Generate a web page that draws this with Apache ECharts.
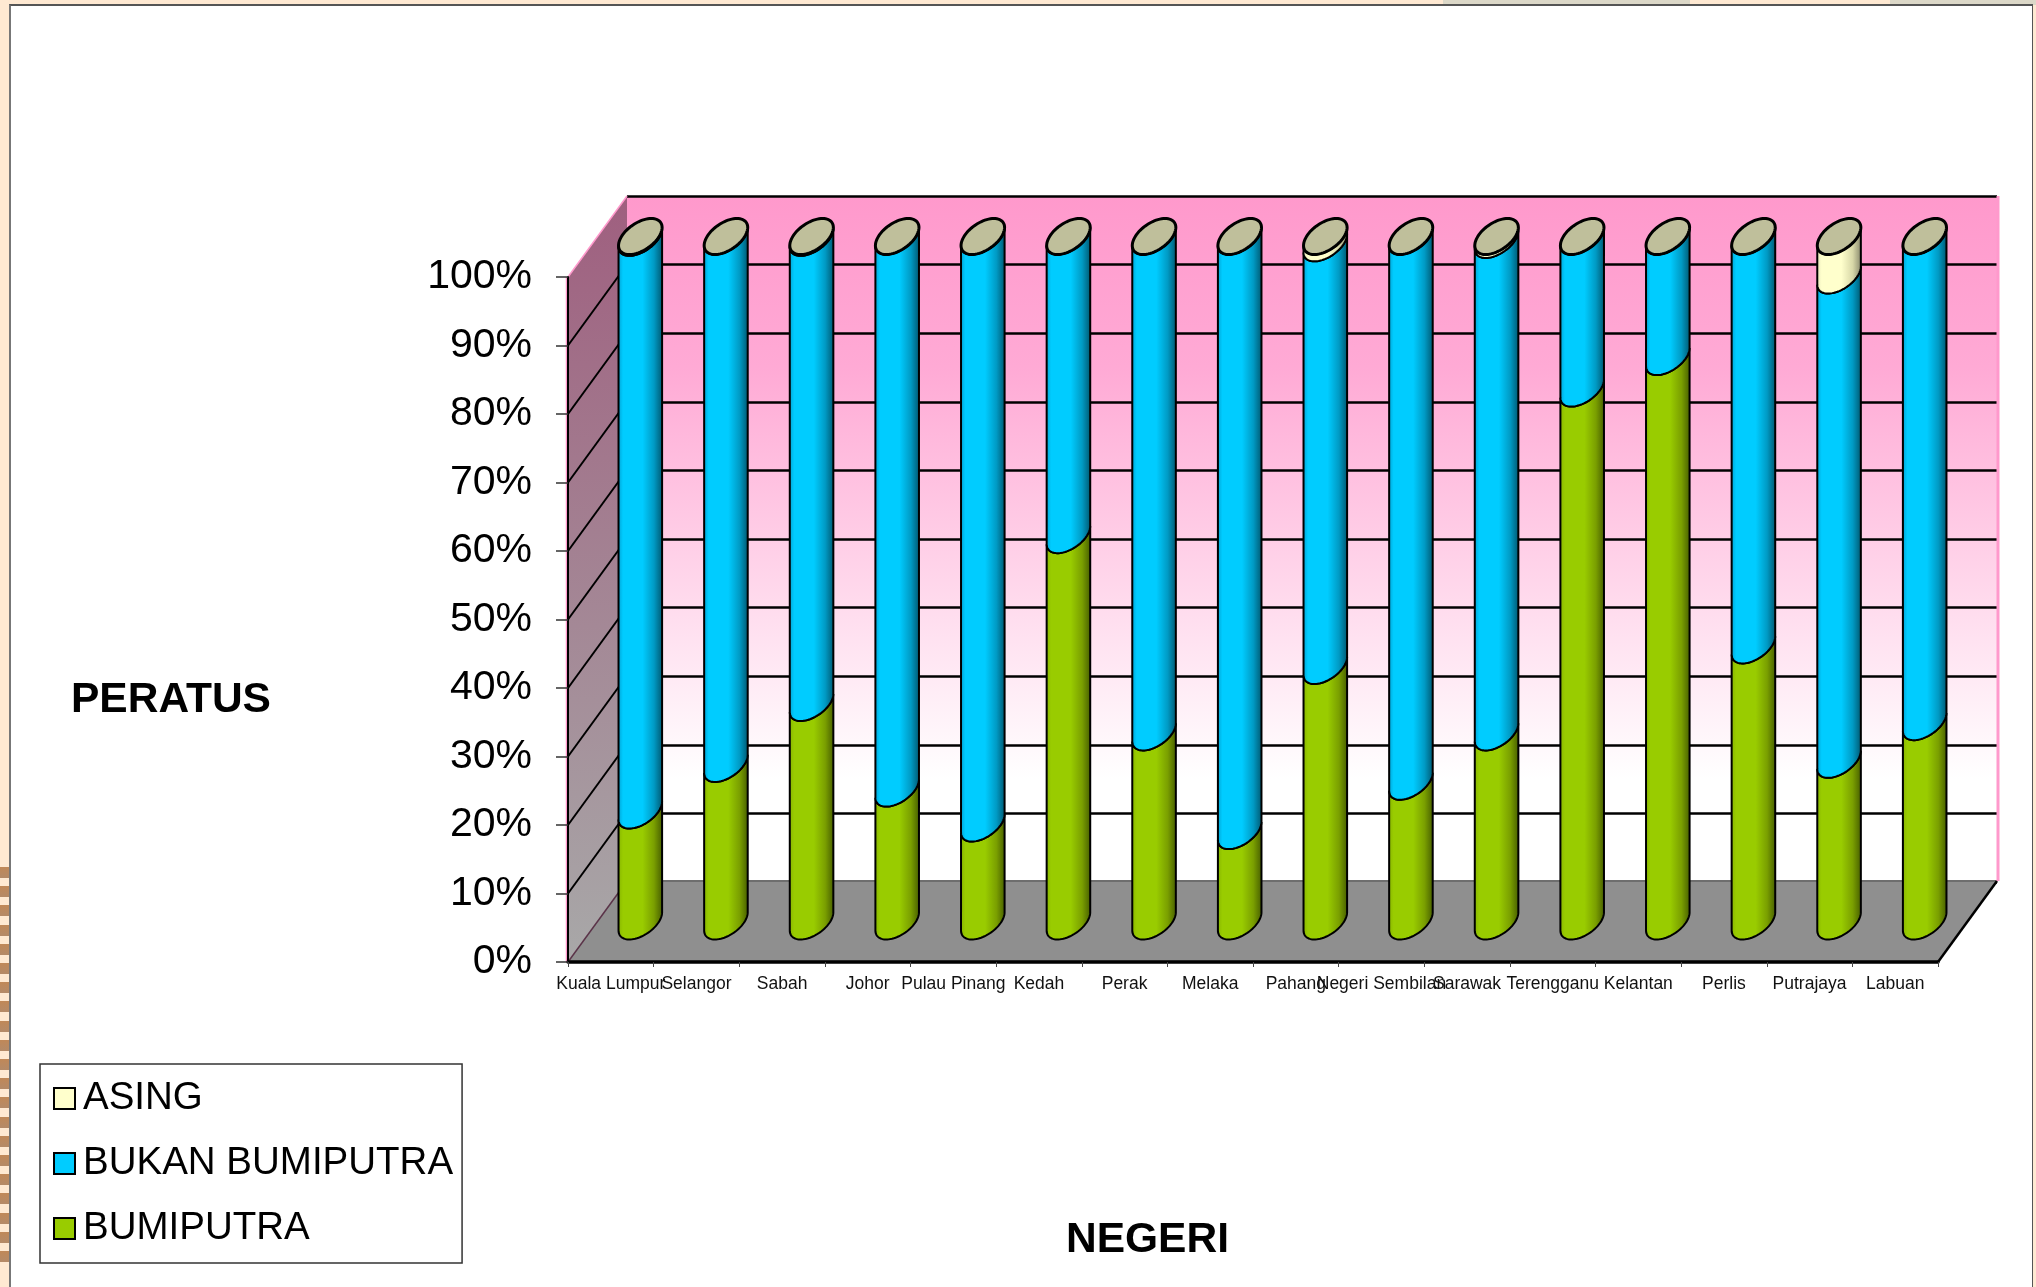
<!DOCTYPE html>
<html>
<head>
<meta charset="utf-8">
<title>Peratus mengikut negeri</title>
<script src="https://cdn.jsdelivr.net/npm/echarts@6/dist/echarts.min.js"></script>
<style>
  html, body { margin: 0; padding: 0; width: 2036px; height: 1287px; overflow: hidden; background: #ffe9d2; }
  .tab { position: absolute; top: 0; height: 5px; background: #dcd8c8; }
  .sheet { position: absolute; left: 9px; top: 4px; width: 2024px; height: 1283px; background: #fff;
           border-top: 2px solid #555; border-left: 2px solid #777; border-right: 1px solid #555; box-sizing: border-box; }
  .strip { position: absolute; left: 0; top: 867px; width: 9px; height: 396px;
           background: repeating-linear-gradient(to bottom, #c08858 0, #b48a68 11px, #ffe9d2 11px, #ffe9d2 19.2px); }
  #chart { position: absolute; left: 0; top: 0; width: 2036px; height: 1287px; }
</style>
</head>
<body>
<div class="tab" style="left:1443px;width:247px"></div>
<div class="tab" style="left:1890px;width:146px"></div>
<div class="sheet"></div>
<div class="strip"></div>
<div id="chart"></div>
<script>
const categories = ['Kuala Lumpur', 'Selangor', 'Sabah', 'Johor', 'Pulau Pinang', 'Kedah', 'Perak', 'Melaka',
  'Pahang', 'Negeri Sembilan', 'Sarawak', 'Terengganu', 'Kelantan', 'Perlis', 'Putrajaya', 'Labuan'];

const bumiputra = [16.2, 23.0, 31.9, 19.4, 14.3, 56.4, 27.6, 13.2, 37.3, 20.4, 27.6, 77.8, 82.4, 40.3, 23.6, 29.1];
const bukanBumiputra = [83.6, 77.0, 67.9, 80.6, 85.7, 43.6, 72.4, 86.8, 61.7, 79.6, 71.9, 22.2, 17.6, 59.7, 70.7, 70.9];
const asing = [0.2, 0, 0.2, 0, 0, 0, 0, 0, 1.0, 0, 0.5, 0, 0, 0, 5.7, 0];

const yTicks = [0, 10, 20, 30, 40, 50, 60, 70, 80, 90, 100];

const FONT = '"Liberation Sans", Arial, sans-serif';
// offset of the back wall from the front plane
const DEPTH_X = 59;
const DEPTH_Y = 81;
// cylinder base: circle seen obliquely
const RX = 18.8, EX = 11, EY = 18;

function hGrad(stops) {
  return new echarts.graphic.LinearGradient(0, 0, 1, 0, stops.map(s => ({offset: s[0], color: s[1]})));
}

const greenFill = [[0, '#86b300'], [0.12, '#99cc00'], [0.55, '#99cc00'], [0.8, '#7a9f00'], [1, '#445a00']];
const blueFill = [[0, '#009fd0'], [0.12, '#00ccff'], [0.55, '#00ccff'], [0.8, '#009ac4'], [1, '#00546c']];
const creamFill = [[0, '#e8e8bc'], [0.12, '#ffffcc'], [0.55, '#ffffcc'], [0.8, '#d8d8a8'], [1, '#84846a']];

// front half of the ellipse, left silhouette point to right silhouette point
function frontArc(cx, cy) {
  const t0 = Math.atan2(EX, RX);
  const pts = [];
  for (let k = 0; k <= 40; k++) {
    const t = t0 + Math.PI + (k / 40) * Math.PI;
    pts.push([cx + RX * Math.cos(t) + EX * Math.sin(t), cy - EY * Math.sin(t)]);
  }
  return pts;
}

function fullEllipse(cx, cy) {
  const pts = [];
  for (let k = 0; k < 72; k++) {
    const t = (k / 72) * Math.PI * 2;
    pts.push([cx + RX * Math.cos(t) + EX * Math.sin(t), cy - EY * Math.sin(t)]);
  }
  return pts;
}

function cylinderSeries(name, base, values, stops, withCap) {
  return {
    name: name,
    type: 'custom',
    xAxisIndex: 0,
    yAxisIndex: 0,
    z: 5,
    silent: true,
    clip: false,
    itemStyle: {color: stops[1][1]},
    encode: {x: 0, y: [1, 2]},
    data: values.map((v, i) => [i, base[i], base[i] + v]),
    renderItem: function (params, api) {
      const lo = api.coord([api.value(0), api.value(1)]);
      const hi = api.coord([api.value(0), api.value(2)]);
      const cx = lo[0] + DEPTH_X / 2;
      const loArc = frontArc(cx, lo[1] - DEPTH_Y / 2);
      const hiArc = frontArc(cx, hi[1] - DEPTH_Y / 2);
      const children = [{
        type: 'polygon',
        shape: {points: loArc.concat(hiArc.slice().reverse())},
        style: {fill: hGrad(stops), stroke: '#000', lineWidth: 2}
      }];
      if (withCap) {
        children.push({
          type: 'polygon',
          shape: {points: fullEllipse(cx, hi[1] - DEPTH_Y / 2)},
          style: {fill: '#bfbf9b', stroke: '#000', lineWidth: 3}
        });
      }
      return {type: 'group', children: children};
    }
  };
}

const bumiTop = bumiputra.map((v, i) => v + bukanBumiputra[i]);

const wallSeries = {
  type: 'custom',
  xAxisIndex: 0,
  yAxisIndex: 0,
  z: 2,
  silent: true,
  clip: false,
  data: [[0, 0]],
  renderItem: function (params, api) {
    const box = params.coordSys;
    const x0 = box.x, x1 = box.x + box.width;
    const yBottom = api.coord([0, 0])[1], yTop = api.coord([0, 100])[1];
    const children = [
      { // side wall
        type: 'polygon',
        shape: {points: [[x0, yBottom], [x0, yTop], [x0 + DEPTH_X, yTop - DEPTH_Y], [x0 + DEPTH_X, yBottom - DEPTH_Y]]},
        style: {
          fill: new echarts.graphic.LinearGradient(0, 0, 0, 1, [
            {offset: 0, color: '#9f5f7f'}, {offset: 1, color: '#a8a8a8'}
          ])
        }
      },
      { // floor
        type: 'polygon',
        shape: {points: [[x0, yBottom], [x0 + DEPTH_X, yBottom - DEPTH_Y], [x1 + DEPTH_X, yBottom - DEPTH_Y], [x1, yBottom]]},
        style: {fill: '#8f8f8f'}
      },
      {type: 'line', shape: {x1: x0 + DEPTH_X, y1: yBottom - DEPTH_Y, x2: x1 + DEPTH_X, y2: yBottom - DEPTH_Y}, style: {stroke: '#6e6e6e', lineWidth: 2}},
      {type: 'line', shape: {x1: x1, y1: yBottom, x2: x1 + DEPTH_X, y2: yBottom - DEPTH_Y}, style: {stroke: '#000', lineWidth: 2.5}},
      {type: 'line', shape: {x1: x0, y1: yBottom, x2: x0 + DEPTH_X, y2: yBottom - DEPTH_Y}, style: {stroke: '#5a3348', lineWidth: 1.5}},
      {type: 'line', shape: {x1: x0, y1: yTop, x2: x0 + DEPTH_X, y2: yTop - DEPTH_Y}, style: {stroke: '#ff99cc', lineWidth: 1.5}},
      {type: 'line', shape: {x1: x0 - 1.5, y1: yTop, x2: x0 - 1.5, y2: yBottom}, style: {stroke: '#ff99cc', lineWidth: 1.5}},
      {type: 'line', shape: {x1: x1 + DEPTH_X + 1, y1: yTop - DEPTH_Y, x2: x1 + DEPTH_X + 1, y2: yBottom - DEPTH_Y}, style: {stroke: '#ff99cc', lineWidth: 3}}
    ];
    yTicks.slice(1, -1).forEach(t => {
      const y = api.coord([0, t])[1];
      children.push({type: 'line', shape: {x1: x0, y1: y, x2: x0 + DEPTH_X, y2: y - DEPTH_Y}, style: {stroke: '#000', lineWidth: 2}});
    });
    return {type: 'group', children: children};
  }
};

const chart = echarts.init(document.getElementById('chart'), null, {renderer: 'canvas'});

chart.setOption({
  animation: false,
  backgroundColor: 'transparent',
  textStyle: {fontFamily: FONT},
  title: [
    {text: 'PERATUS', left: 71, top: 679, textStyle: {fontFamily: FONT, fontSize: 42.5, fontWeight: 'bold', color: '#000'}, padding: 0},
    {text: 'NEGERI', left: 1066, top: 1219, textStyle: {fontFamily: FONT, fontSize: 42.5, fontWeight: 'bold', color: '#000'}, padding: 0}
  ],
  legend: {
    orient: 'vertical',
    left: 40,
    top: 1064,
    padding: [15, 9, 15, 13],
    itemGap: 26,
    itemWidth: 21,
    itemHeight: 21,
    borderColor: '#333',
    borderWidth: 1.5,
    backgroundColor: '#fff',
    textStyle: {fontFamily: FONT, fontSize: 38.5, color: '#000', padding: [0, 0, 0, 3]},
    selectedMode: false,
    data: [
      {name: 'ASING', icon: 'rect', itemStyle: {color: '#ffffcc', borderColor: '#000', borderWidth: 2}},
      {name: 'BUKAN BUMIPUTRA', icon: 'rect', itemStyle: {color: '#00ccff', borderColor: '#000', borderWidth: 2}},
      {name: 'BUMIPUTRA', icon: 'rect', itemStyle: {color: '#99cc00', borderColor: '#000', borderWidth: 2}}
    ]
  },
  grid: [
    {left: 568, top: 277, width: 1370, height: 685, containLabel: false},
    { // back wall
      left: 627, top: 196, width: 1370, height: 686,
      show: true,
      borderWidth: 0,
      backgroundColor: new echarts.graphic.LinearGradient(0, 0, 0, 1, [
        {offset: 0, color: '#ff99cc'}, {offset: 0.25, color: '#ffaad5'}, {offset: 0.85, color: '#ffffff'}, {offset: 1, color: '#ffffff'}
      ])
    }
  ],
  xAxis: [
    {
      gridIndex: 0,
      type: 'category',
      data: categories,
      z: 6,
      axisLine: {lineStyle: {color: '#000', width: 3.5}},
      axisTick: {show: true, length: 5, lineStyle: {color: '#444', width: 1}},
      axisLabel: {interval: 0, hideOverlap: false, fontSize: 17.5, color: '#111', margin: 13, fontFamily: FONT}
    },
    {gridIndex: 1, type: 'category', data: categories, show: false}
  ],
  yAxis: [
    {
      gridIndex: 0,
      type: 'value',
      min: 0,
      max: 100,
      interval: 10,
      z: 6,
      axisLine: {show: true, lineStyle: {color: '#000', width: 2}},
      axisTick: {show: true, length: 12, lineStyle: {color: '#333', width: 1.5}},
      axisLabel: {fontSize: 41, color: '#000', margin: 36, fontFamily: FONT, formatter: '{value}%', padding: [8, 0, 0, 0]},
      splitLine: {show: false}
    },
    {
      gridIndex: 1,
      type: 'value',
      min: 0,
      max: 100,
      interval: 10,
      axisLine: {show: false},
      axisTick: {show: false},
      axisLabel: {show: false},
      splitLine: {show: true, lineStyle: {color: '#000', width: 2.5}}
    }
  ],
  series: [
    wallSeries,
    cylinderSeries('BUMIPUTRA', bumiputra.map(() => 0), bumiputra, greenFill, false),
    cylinderSeries('BUKAN BUMIPUTRA', bumiputra, bukanBumiputra, blueFill, false),
    cylinderSeries('ASING', bumiTop, asing, creamFill, true)
  ]
});

window.addEventListener('resize', () => chart.resize());
</script>
</body>
</html>
